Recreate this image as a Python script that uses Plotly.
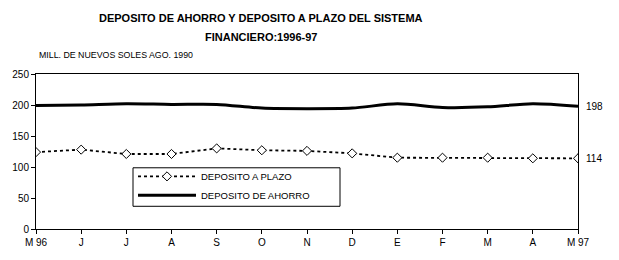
import plotly.graph_objects as go

months = ["M 96", "J", "J", "A", "S", "O", "N", "D", "E", "F", "M", "A", "M 97"]
plazo = [124, 128, 121, 121, 130, 127, 126, 122, 115, 115, 115, 114, 114]
ahorro = [199, 200, 202, 201, 201, 195, 194, 195, 202, 196, 197, 202, 198]
yticks = [0, 50, 100, 150, 200, 250]

xs = list(range(len(months)))
FONT = "Arial, Liberation Sans, sans-serif"
TFONT = "Liberation Sans, Arial, sans-serif"

PT, PB, PL, PR = 74, 231, 36, 578  # plot box in px
def py(p):
    return (PB - p) / (PB - PT)
def px(p):
    return (p - PL) / (PR - PL)

fig = go.Figure()
fig.add_trace(go.Scatter(
    x=xs, y=plazo, name="DEPOSITO A PLAZO", mode="lines+markers",
    line=dict(color="black", width=1.8, dash="dot"),
    marker=dict(symbol="diamond", size=7, color="white", line=dict(width=1, color="black")),
))
fig.add_trace(go.Scatter(
    x=xs, y=ahorro, name="DEPOSITO DE AHORRO", mode="lines",
    line=dict(color="black", width=3, shape="spline", smoothing=0.8),
))

annotations = [
    dict(text="<b>DEPOSITO DE AHORRO Y DEPOSITO A PLAZO DEL SISTEMA</b>", x=px(261), y=py(17),
         xref="paper", yref="paper", showarrow=False, xanchor="center", yanchor="middle",
         font=dict(family=TFONT, size=11, color="black")),
    dict(text="<b>FINANCIERO:1996-97</b>", x=px(261), y=py(37),
         xref="paper", yref="paper", showarrow=False, xanchor="center", yanchor="middle",
         font=dict(family=TFONT, size=11, color="black")),
    dict(text="MILL. DE NUEVOS SOLES AGO. 1990", x=px(37), y=py(55),
         xref="paper", yref="paper", showarrow=False, xanchor="left", yanchor="middle",
         font=dict(family=FONT, size=8.8, color="black")),
]
for vals in (ahorro, plazo):
    annotations.append(dict(text=str(vals[-1]), x=xs[-1], y=vals[-1], xref="x", yref="y",
                            showarrow=False, xanchor="left", yanchor="middle", xshift=6,
                            font=dict(family=FONT, size=10, color="black")))

fig.update_layout(
    width=619, height=260,
    margin=dict(l=PL, r=619 - PR, t=PT, b=260 - PB, pad=0),
    paper_bgcolor="white", plot_bgcolor="white",
    font=dict(family=FONT, size=10, color="black"),
    showlegend=True,
    legend=dict(x=px(133), y=py(163), xanchor="left", yanchor="top",
                borderwidth=0, bgcolor="rgba(0,0,0,0)",
                font=dict(family=FONT, size=9.5, color="black"),
                itemwidth=58, tracegroupgap=0),
    shapes=[dict(type="rect", xref="paper", yref="paper",
                 x0=px(133), x1=px(340), y0=py(208), y1=py(169),
                 line=dict(color="black", width=1), fillcolor="white", layer="below")],
    annotations=annotations,
)
fig.update_xaxes(range=[0, 12], tickvals=xs, ticktext=months, showgrid=False, zeroline=False,
                 showline=True, linecolor="black", linewidth=1, mirror=True,
                 ticks="outside", ticklen=4, tickcolor="black",
                 tickfont=dict(family=FONT, size=10, color="black"))
fig.update_yaxes(range=[0, 250], tickvals=yticks, showgrid=False, zeroline=False,
                 showline=True, linecolor="black", linewidth=1, mirror=True,
                 ticks="outside", ticklen=4, tickcolor="black",
                 tickfont=dict(family=FONT, size=10, color="black"))

fig.write_html("out.html")
